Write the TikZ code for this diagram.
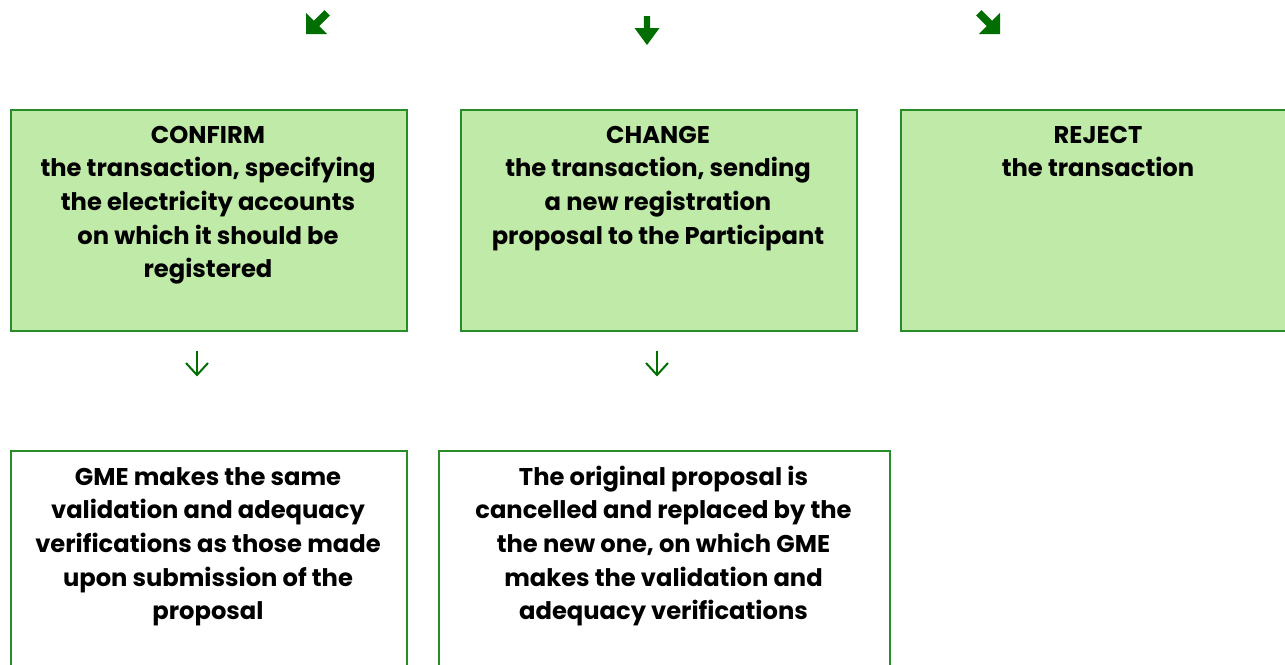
\documentclass[tikz,border=0pt]{standalone}
\usepackage{fontspec}
\setmainfont{Poppins}[BoldFont={Poppins Bold}]
\definecolor{boxline}{RGB}{40,140,40}
\definecolor{boxfill}{RGB}{192,234,168}
\definecolor{arrowgreen}{RGB}{0,110,0}
\begin{document}
\begin{tikzpicture}[x=1pt,y=-1pt,
  greenbox/.style={draw=boxline, line width=1.8pt, fill=boxfill, anchor=north west, inner sep=0pt},
  whitebox/.style={draw=boxline, line width=1.8pt, fill=white, anchor=north west, inner sep=0pt},
  boxtext/.style={anchor=north, inner sep=0pt, align=center, font=\fontsize{24.2}{33.6}\selectfont\bfseries},
  thinarrow/.style={draw=arrowgreen, line width=2pt},
  fatarrow/.style={fill=arrowgreen, draw=none}]
\useasboundingbox (0,0) rectangle (1285,664);
% boxes
\node[greenbox, minimum width=396pt, minimum height=221pt] (confirm) at (10,109) {};
\node[greenbox, minimum width=396pt, minimum height=221pt] (change) at (460,109) {};
\node[greenbox, minimum width=396pt, minimum height=221pt] (reject) at (900,109) {};
\node[whitebox, minimum width=396pt, minimum height=225pt] (gme) at (10,450) {};
\node[whitebox, minimum width=451pt, minimum height=225pt] (orig) at (438,450) {};
% texts
\node[boxtext] (confirmtext) at (208,119.5) {\strut CONFIRM\\the transaction, specifying\\the electricity accounts\\on which it should be\\registered};
\node[boxtext] (changetext) at (658,119.5) {\strut CHANGE\\the transaction, sending\\a new registration\\proposal to the Participant};
\node[boxtext] (rejecttext) at (1098,119.5) {\strut REJECT\\the transaction};
\node[boxtext] (gmetext) at (208,461.5) {\strut GME makes the same\\validation and adequacy\\verifications as those made\\upon submission of the\\proposal};
\node[boxtext] (origtext) at (663.5,461.5) {\strut The original proposal is\\cancelled and replaced by the\\the new one, on which GME\\makes the validation and\\adequacy verifications};
% top fat arrows
\coordinate (tipL) at (306,34);
\coordinate (tipM) at (647,45);
\coordinate (tipR) at (1000,34);
\fill[fatarrow, shift={(tipM)}] (0,0) -- (12.5,-17) -- (3.2,-17) -- (3.2,-29) -- (-3.2,-29) -- (-3.2,-17) -- (-12.5,-17) -- cycle;
\fill[fatarrow, shift={(tipL)}, rotate=-45] (0,0) -- (15,-15) -- (3.8,-15) -- (3.8,-30) -- (-3.8,-30) -- (-3.8,-15) -- (-15,-15) -- cycle;
\fill[fatarrow, shift={(tipR)}, rotate=45] (0,0) -- (15,-15) -- (3.8,-15) -- (3.8,-30) -- (-3.8,-30) -- (-3.8,-15) -- (-15,-15) -- cycle;
% thin arrows between rows
\coordinate (a1s) at (197,351);
\coordinate (a1e) at (197,375);
\coordinate (a2s) at (657,351);
\coordinate (a2e) at (657,375);
\draw[thinarrow] (a1s) -- (a1e);
\draw[thinarrow, line join=miter] ([xshift=-11pt,yshift=12pt]a1e) -- (a1e) -- ([xshift=11pt,yshift=12pt]a1e);
\draw[thinarrow] (a2s) -- (a2e);
\draw[thinarrow, line join=miter] ([xshift=-11pt,yshift=12pt]a2e) -- (a2e) -- ([xshift=11pt,yshift=12pt]a2e);
\end{tikzpicture}
\end{document}
